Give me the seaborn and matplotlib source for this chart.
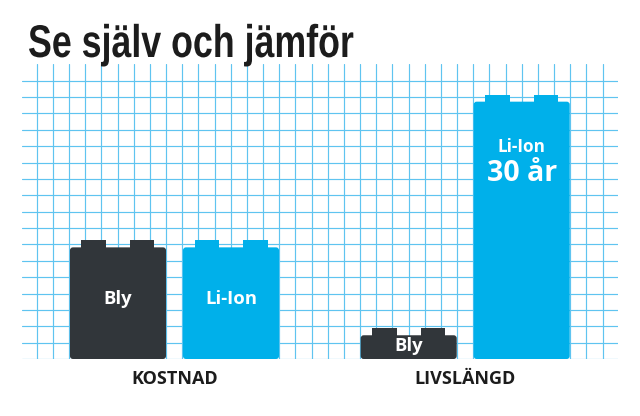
import matplotlib
matplotlib.use("Agg")
import matplotlib.pyplot as plt
import matplotlib.font_manager as fm
import seaborn as sns
import pandas as pd
from matplotlib.patches import FancyBboxPatch, Rectangle
from matplotlib.patheffects import AbstractPathEffect
from matplotlib.transforms import Affine2D

# ---- data ----
title = "Se själv och jämför"
groups = ["KOSTNAD", "KOSTNAD", "LIVSLÄNGD", "LIVSLÄNGD"]
batteries = ["Bly", "Li-Ion", "Bly", "Li-Ion"]
values = [6.82, 6.82, 1.45, 15.72]          # bar heights in grid squares
bar_labels = ["Bly", "Li-Ion", "Bly", "Li-Ion"]
extra_label = "30 år"                         # under Li-Ion lifetime label

dark = "#31363a"
blue = "#00b0ea"
grid_c = "#5fc4f0"
ink = "#1c1c1c"

df = pd.DataFrame({"group": groups, "battery": batteries, "value": values})

sns.set_theme(style="white")
plt.rcParams["font.family"] = ["Open Sans", "DejaVu Sans"]


class Squeeze(AbstractPathEffect):
    """Narrow the glyphs horizontally (for a condensed look)."""
    def __init__(self, sx):
        super().__init__()
        self.sx = sx

    def draw_path(self, renderer, gc, tpath, affine, rgbFace=None):
        renderer.draw_path(gc, tpath, Affine2D().scale(self.sx, 1) + affine, rgbFace)


W, H = 640, 416
fig = plt.figure(figsize=(W / 100, H / 100), dpi=100)
fig.patch.set_facecolor("white")

px_left, px_right, px_top, px_bot = 21.7, 618.3, 64.0, 359.0
ax = fig.add_axes([px_left / W, (H - px_bot) / H,
                   (px_right - px_left) / W, (px_bot - px_top) / H])
ax.set_facecolor("none")

unit_x = 290.7
unit_y = 16.37
c0 = 174.5
xlim = ((px_left - c0) / unit_x, (px_right - c0) / unit_x)
ylim = (0, (px_bot - px_top) / unit_y)

sns.barplot(data=df, x="group", y="value", hue="battery",
            palette=[dark, blue], width=0.7775, gap=0.15,
            legend=False, ax=ax, saturation=1, zorder=3)
ax.set_xlim(*xlim)
ax.set_ylim(*ylim)

for j in range(18):
    ax.axhline(j, color=grid_c, lw=0.85, zorder=1)
for k in range(36):
    xp = 36.7 + k * 16.17
    ax.axvline((xp - c0) / unit_x, ymin=0, ymax=1, color=grid_c, lw=0.85, zorder=1)

rad = 3.0
bars = list(ax.patches)
info = []
for p in bars:
    x, y = p.get_x(), p.get_y()
    w, h = p.get_width(), p.get_height()
    fc = p.get_facecolor()
    p.remove()
    body = FancyBboxPatch((x, y), w, h,
                          boxstyle=f"round,pad=0,rounding_size={rad / unit_x}",
                          mutation_aspect=unit_x / unit_y,
                          facecolor=fc, edgecolor="none", zorder=3)
    ax.add_patch(body)
    th = 7.0 / unit_y
    tw = 0.255 * w
    for off in (0.12 * w, w - 0.12 * w - tw):
        ax.add_patch(Rectangle((x + off, y + h - 0.05), tw, th + 0.05,
                               facecolor=fc, edgecolor="none", zorder=3))
    info.append((x + w / 2, h))

info.sort(key=lambda t: t[0])
for i, (cx, h) in enumerate(info):
    if i == 3:
        ax.text(cx, h - 2.75, bar_labels[i], color="white", fontsize=12.3,
                fontweight="bold", ha="center", va="center", zorder=5)
        ax.text(cx, h - 4.4, extra_label, color="white", fontsize=20.5,
                fontweight="bold", ha="center", va="center", zorder=5)
    else:
        ax.text(cx, h * 0.535, bar_labels[i], color="white", fontsize=13.3,
                fontweight="bold", ha="center", va="center", zorder=5)

for s in ax.spines.values():
    s.set_visible(False)
ax.set_xlabel("")
ax.set_ylabel("")
ax.set_yticks([])
ax.tick_params(axis="x", length=0, pad=8)
for lab in ax.get_xticklabels():
    lab.set_fontsize(13)
    lab.set_fontweight("bold")
    lab.set_color(ink)

names = {f.name for f in fm.fontManager.ttflist}
narrow = [n for n in ("Liberation Sans Narrow", "DejaVu Sans Condensed") if n in names]
if narrow:
    tfam, squeeze = [narrow[0], "DejaVu Sans"], 1.0
else:
    tfam, squeeze = ["Liberation Sans", "DejaVu Sans"], 0.78

t = fig.text(28 / W, 1 - 57 / H, title, fontsize=33,
             fontweight="bold", color=ink, ha="left", va="baseline",
             family=tfam)
if squeeze != 1.0:
    t.set_path_effects([Squeeze(squeeze)])

fig.savefig("out.png", dpi=100, facecolor="white")
